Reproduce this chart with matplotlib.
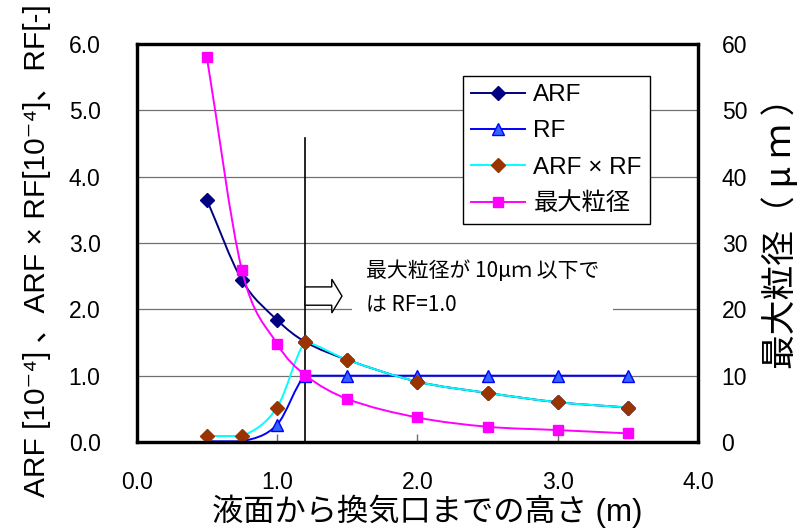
import numpy as np
import matplotlib
matplotlib.use('Agg')
import matplotlib.pyplot as plt
from matplotlib.path import Path
from matplotlib.patches import PathPatch, Rectangle, FancyArrow
from matplotlib.lines import Line2D

plt.rcParams['font.family'] = ['Liberation Sans', 'Noto Sans CJK JP', 'DejaVu Sans']

# ---------------- data ----------------
height_m = [0.5, 0.75, 1.0, 1.2, 1.5, 2.0, 2.5, 3.0, 3.5]
arf = [3.65, 2.44, 1.84, 1.51, 1.24, 0.91, 0.74, 0.60, 0.52]
rf = [0.01, 0.01, 0.26, 1.0, 1.0, 1.0, 1.0, 1.0, 1.0]
arf_rf = [0.09, 0.09, 0.52, 1.51, 1.24, 0.91, 0.74, 0.60, 0.52]
max_size = [58.0, 25.9, 14.8, 10.1, 6.5, 3.7, 2.3, 1.8, 1.3]

x_ticks = [0.0, 1.0, 2.0, 3.0, 4.0]
y_ticks = [0.0, 1.0, 2.0, 3.0, 4.0, 5.0, 6.0]
y2_ticks = [0, 10, 20, 30, 40, 50, 60]

series_labels = ['ARF', 'RF', 'ARF × RF', '最大粒径']
xlabel = '液面から換気口までの高さ (m)'
ylabel = 'ARF [10⁻⁴] 、ARF × RF[10⁻⁴]、RF[-]'
y2label = '最大粒径（ μ ｍ ）'
note1 = '最大粒径が 10μｍ 以下で'
note2 = 'は RF=1.0'
threshold_x = 1.2


def smooth_path(x, y):
    """Excel-like smoothed line through the data points as cubic Bezier segments."""
    x = np.asarray(x, float)
    y = np.asarray(y, float)
    n = len(x)
    d = np.diff(y) / np.diff(x)
    m_in = np.zeros(n)
    m_out = np.zeros(n)
    m_in[0] = m_out[0] = d[0]
    m_in[-1] = m_out[-1] = d[-1]
    for i in range(1, n - 1):
        if d[i - 1] * d[i] <= 0:
            m_in[i] = 0.5 * d[i - 1]
            m_out[i] = 0.5 * d[i]
        else:
            t = (y[i + 1] - y[i - 1]) / (x[i + 1] - x[i - 1])
            m_in[i] = m_out[i] = t
    verts = [(x[0], y[0])]
    codes = [Path.MOVETO]
    for i in range(n - 1):
        h = x[i + 1] - x[i]
        verts += [(x[i] + h / 3, y[i] + m_out[i] * h / 3),
                  (x[i + 1] - h / 3, y[i + 1] - m_in[i + 1] * h / 3),
                  (x[i + 1], y[i + 1])]
        codes += [Path.CURVE4] * 3
    return Path(verts, codes)


W, H = 805, 528
fig = plt.figure(figsize=(W / 100, H / 100), dpi=100)
L, R, T, B = 136.7, 698, 44, 442
ax = fig.add_axes([L / W, 1 - B / H, (R - L) / W, (B - T) / H])
ax2 = ax.twinx()

ax.set_xlim(0, 4)
ax.set_ylim(0, 6)
ax2.set_ylim(0, 60)

# grid
for yv in y_ticks[1:-1]:
    ax.axhline(yv, color='#707070', lw=0.9, zorder=0.5)

styles = [
    dict(color='#000080', marker='D', mfc='#000080', mec='#000080', ms=7.5),
    dict(color='#0000FF', marker='^', mfc='#3366FF', mec='#0000FF', ms=9),
    dict(color='#00FFFF', marker='D', mfc='#993300', mec='#993300', ms=7.5),
    dict(color='#FF00FF', marker='s', mfc='#FF00FF', mec='#FF00FF', ms=7.5),
]
lw = 1.4

for yvals, st, axis in [(arf, styles[0], ax), (rf, styles[1], ax),
                        (arf_rf, styles[2], ax), (max_size, styles[3], ax2)]:
    p = PathPatch(smooth_path(height_m, yvals), fill=False, edgecolor=st['color'],
                  lw=lw, transform=axis.transData, zorder=2)
    axis.add_patch(p)
    axis.plot(height_m, yvals, linestyle='none', marker=st['marker'], ms=st['ms'],
              mfc=st['mfc'], mec=st['mec'], mew=1, zorder=3)

# threshold line + arrow + note
ax.plot([threshold_x, threshold_x], [0, 4.58], color='black', lw=1.2, zorder=2.5)
ax.add_patch(FancyArrow(threshold_x, 2.2, 0.263, 0, width=0.276, head_width=0.51,
                        head_length=0.073, length_includes_head=True,
                        fc='white', ec='black', lw=1.0, zorder=2.6))
ax.add_patch(Rectangle((1.535, 1.75), 1.86, 1.1, fc='white', ec='none', zorder=1.5))
note_font = ['Noto Sans CJK JP', 'DejaVu Sans']
ax.text(1.634, 2.58, note1, family=note_font, fontsize=15, va='center', ha='left', zorder=4)
ax.text(1.634, 2.07, note2, family=note_font, fontsize=15, va='center', ha='left', zorder=4)

# ticks
ax.set_xticks(x_ticks)
ax.set_xticklabels([f'{v:.1f}' for v in x_ticks])
ax.set_yticks(y_ticks)
ax.set_yticklabels([f'{v:.1f}' for v in y_ticks])
ax2.set_yticks(y2_ticks)
ax2.set_yticklabels([str(v) for v in y2_ticks])
ax.tick_params(axis='x', direction='in', length=6, width=1, color='#707070',
               labelsize=16.5, pad=21, top=False)
ax.tick_params(axis='y', direction='in', length=0, labelsize=16.5, pad=26)
ax2.tick_params(axis='y', direction='in', length=0, labelsize=16.5, pad=17)

for a in (ax, ax2):
    for s in a.spines.values():
        s.set_linewidth(2.3)
        s.set_color('black')

# labels
fig.text(37 / W, 1 - 251 / H, ylabel, rotation=90, ha='center', va='center', fontsize=21.5)
fig.text(781 / W, 1 - 225 / H, y2label, rotation=90, ha='center', va='center', fontsize=25,
         family=['Noto Sans CJK JP', 'DejaVu Sans'])
fig.text(427 / W, 1 - 511 / H, xlabel, ha='center', va='center', fontsize=22.5)

# legend
handles = [Line2D([], [], color=st['color'], lw=lw, marker=st['marker'], ms=st['ms'],
                  mfc=st['mfc'], mec=st['mec']) for st in styles]
leg = ax2.legend(handles, series_labels, loc='upper left', bbox_to_anchor=(0.581, 0.92),
                 borderaxespad=0, fontsize=17.5, frameon=True, fancybox=False,
                 edgecolor='black', framealpha=1, handlelength=2.2, handletextpad=0.35,
                 labelspacing=0.58, borderpad=0.35)
leg.get_frame().set_linewidth(1.0)
leg.set_zorder(10)

fig.savefig('out.png', dpi=100)
